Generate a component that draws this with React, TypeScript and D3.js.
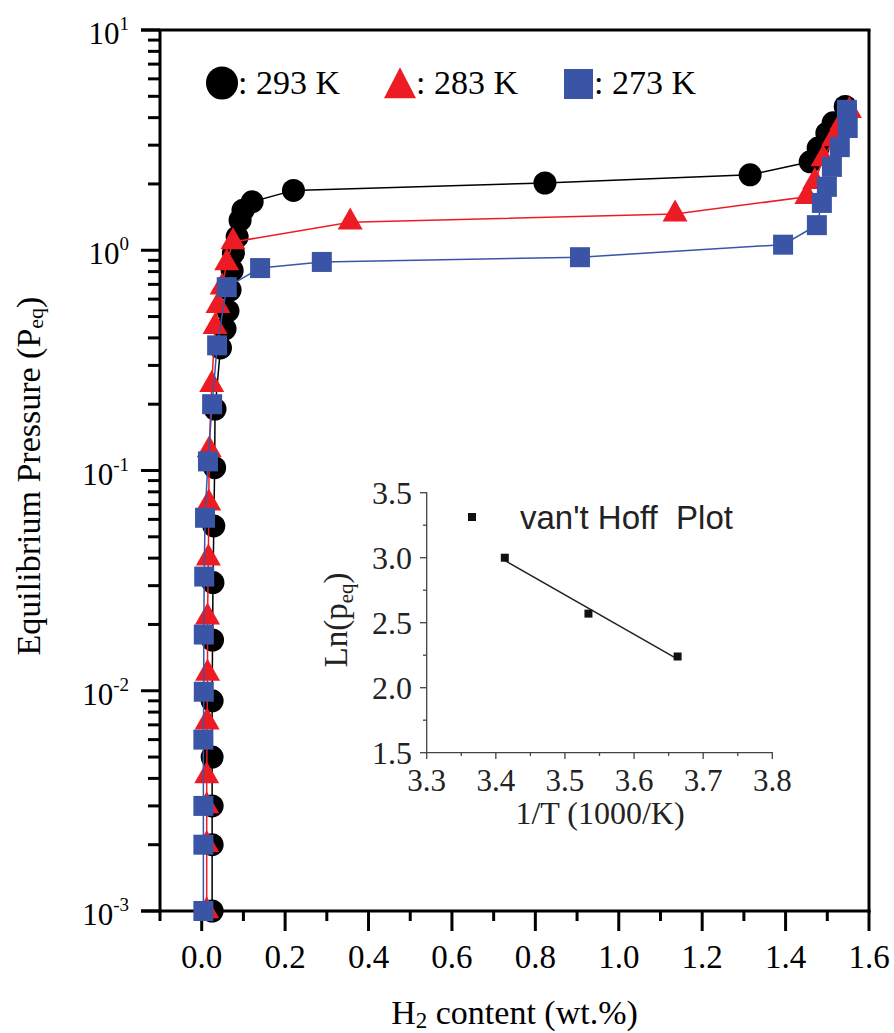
import React from 'react';
import * as d3 from 'd3';

// ---- main isotherms: H2 content (wt.%) vs equilibrium pressure ----
const h2_293 = [0.025, 0.025, 0.025, 0.025, 0.025, 0.026, 0.027, 0.029, 0.031, 0.032, 0.045, 0.056, 0.063, 0.068, 0.073, 0.076, 0.085, 0.092, 0.099, 0.121, 0.22, 0.823, 1.315, 1.459, 1.478, 1.499, 1.514, 1.543];
const p_293 = [0.001, 0.002, 0.003, 0.005, 0.009, 0.017, 0.031, 0.056, 0.103, 0.19, 0.36, 0.44, 0.53, 0.66, 0.81, 0.97, 1.15, 1.37, 1.52, 1.66, 1.87, 2.02, 2.2, 2.52, 2.91, 3.4, 3.79, 4.5];

const h2_283 = [0.012, 0.012, 0.012, 0.012, 0.013, 0.014, 0.014, 0.016, 0.017, 0.018, 0.024, 0.032, 0.039, 0.049, 0.06, 0.075, 0.356, 1.135, 1.451, 1.47, 1.49, 1.515, 1.535, 1.553];
const p_283 = [0.001, 0.002, 0.003, 0.0041, 0.0072, 0.012, 0.0216, 0.04, 0.071, 0.124, 0.245, 0.45, 0.56, 0.68, 0.875, 1.09, 1.34, 1.46, 1.75, 2.05, 2.6, 3.2, 3.8, 4.3];

const h2_273 = [0.004, 0.004, 0.004, 0.004, 0.005, 0.005, 0.006, 0.008, 0.015, 0.025, 0.037, 0.06, 0.14, 0.288, 0.907, 1.394, 1.475, 1.487, 1.499, 1.511, 1.53, 1.549, 1.547];
const p_273 = [0.001, 0.002, 0.003, 0.006, 0.0099, 0.018, 0.033, 0.061, 0.11, 0.2, 0.37, 0.68, 0.83, 0.885, 0.93, 1.06, 1.3, 1.64, 1.94, 2.39, 2.94, 3.59, 4.34];

const seriesLabels = [': 293 K', ': 283 K', ': 273 K'];
const xTickLabels = ['0.0', '0.2', '0.4', '0.6', '0.8', '1.0', '1.2', '1.4', '1.6'];
const yDecadeExponents = ['-3', '-2', '-1', '0', '1'];

// ---- inset: van't Hoff plot ----
const invT = [3.413, 3.534, 3.663];
const lnPeq = [3.0, 2.57, 2.24];
const insetXTickLabels = ['3.3', '3.4', '3.5', '3.6', '3.7', '3.8'];
const insetYTickLabels = ['1.5', '2.0', '2.5', '3.0', '3.5'];

const SERIF = "'Liberation Serif', 'Times New Roman', serif";
const SANS = "'Liberation Sans', Arial, sans-serif";

const BLACK = '#000000';
const RED = '#ed1c24';
const BLUE = '#3a55a6';

const serif = { fontFamily: SERIF };
const sans = { fontFamily: SANS, whiteSpace: 'pre' as const };

function triPath(cx: number, cy: number, w: number, h: number) {
  // centroid-centred upward triangle
  const top = cy - (2 * h) / 3;
  const base = cy + h / 3;
  return `M${cx},${top}L${cx + w / 2},${base}L${cx - w / 2},${base}Z`;
}

export default function App() {
  const x = d3.scaleLinear().domain([-0.1, 1.6]).range([160, 869]);
  const y = d3.scaleLog().domain([1e-3, 10]).range([911, 30]);

  const ix = d3.scaleLinear().domain([3.3, 3.8]).range([426.7, 772.3]);
  const iy = d3.scaleLinear().domain([1.5, 3.5]).range([752.7, 492.7]);

  const mk = (xs: number[], ps: number[]) => xs.map((v, i) => [v, ps[i]] as [number, number]);
  const s293 = mk(h2_293, p_293);
  const s283 = mk(h2_283, p_283);
  const s273 = mk(h2_273, p_273);

  const line = d3
    .line<[number, number]>()
    .x((d) => x(d[0]))
    .y((d) => y(d[1]));

  // major and minor ticks on the log axis
  const logTicks: { v: number; major: boolean }[] = [];
  for (let e = -3; e <= 1; e++) {
    logTicks.push({ v: Math.pow(10, e), major: true });
    if (e < 1) for (let m = 2; m <= 9; m++) logTicks.push({ v: m * Math.pow(10, e), major: false });
  }
  const xTicks = d3.range(-1, 17).map((k) => ({ v: k / 10, major: k % 2 === 0 }));

  // least-squares fit through the van't Hoff points
  const mx = d3.mean(invT)!;
  const my = d3.mean(lnPeq)!;
  let sxy = 0;
  let sxx = 0;
  invT.forEach((v, i) => {
    sxy += (v - mx) * (lnPeq[i] - my);
    sxx += (v - mx) * (v - mx);
  });
  const slope = sxy / sxx;
  const fit = (v: number) => my + slope * (v - mx);
  const fx0 = invT[0];
  const fx1 = invT[invT.length - 1];

  const insetXMinor = d3.range(0, 11).map((k) => 3.3 + k * 0.05);
  const insetYMinor = d3.range(0, 9).map((k) => 1.5 + k * 0.25);

  return (
    <svg
      width={894}
      height={1033}
      viewBox="0 0 894 1033"
      style={{ position: 'absolute', left: 0, top: 0, background: '#fff' }}
    >
      <rect x={0} y={0} width={894} height={1033} fill="#fff" />

      {/* frame */}
      <g stroke="#000" strokeWidth={3} fill="none">
        <line x1={141} y1={30} x2={870.5} y2={30} />
        <line x1={869} y1={30} x2={869} y2={912.5} />
        <line x1={160} y1={30} x2={160} y2={912.5} />
        <line x1={141} y1={911} x2={870.5} y2={911} />
      </g>

      {/* y ticks */}
      <g stroke="#000" strokeWidth={3}>
        {logTicks.map((t, i) => (
          <line key={i} x1={t.major ? 141 : 148} x2={160} y1={y(t.v)} y2={y(t.v)} />
        ))}
      </g>
      {yDecadeExponents.map((e) => (
        <text key={e} x={129} y={y(Math.pow(10, +e)) + 14} textAnchor="end" fontSize={31} fill="#000" style={serif}>
          10
          <tspan fontSize={19} dy={-14}>
            {e}
          </tspan>
        </text>
      ))}

      {/* x ticks */}
      <g stroke="#000" strokeWidth={3}>
        {xTicks.map((t, i) => (
          <line key={i} x1={x(t.v)} x2={x(t.v)} y1={911} y2={t.major ? 931 : 921} />
        ))}
      </g>
      {xTickLabels.map((l) => (
        <text key={l} x={x(+l)} y={968} textAnchor="middle" fontSize={33} fill="#000" style={serif}>
          {l}
        </text>
      ))}

      {/* axis titles */}
      <text x={514.5} y={1024} textAnchor="middle" fontSize={34} fill="#000" style={serif}>
        H
        <tspan fontSize={23} dy={4}>
          2
        </tspan>
        <tspan dy={-4}> content (wt.%)</tspan>
      </text>
      <text transform="translate(40,476) rotate(-90)" textAnchor="middle" fontSize={34} fill="#000" style={serif}>
        Equilibrium Pressure (P
        <tspan fontSize={22} dy={3}>
          eq
        </tspan>
        <tspan dy={-3}>)</tspan>
      </text>

      {/* 293 K */}
      <path d={line(s293) || ''} fill="none" stroke={BLACK} strokeWidth={1.5} />
      {s293.map((d, i) => (
        <circle key={i} cx={x(d[0])} cy={y(d[1])} r={11.5} fill={BLACK} />
      ))}

      {/* 283 K */}
      <path d={line(s283) || ''} fill="none" stroke={RED} strokeWidth={1.5} />
      {s283.map((d, i) => (
        <path key={i} d={triPath(x(d[0]), y(d[1]), 25, 22)} fill={RED} />
      ))}

      {/* 273 K */}
      <path d={line(s273) || ''} fill="none" stroke={BLUE} strokeWidth={1.5} />
      {s273.map((d, i) => (
        <rect key={i} x={x(d[0]) - 10} y={y(d[1]) - 10} width={20} height={20} fill={BLUE} />
      ))}

      {/* legend */}
      <g fontSize={34} fill="#000">
        <ellipse cx={222} cy={83} rx={16} ry={16.5} fill={BLACK} />
        <text x={238} y={94} style={serif}>
          {seriesLabels[0]}
        </text>
        <path d={triPath(400, 88, 32, 31)} fill={RED} />
        <text x={416} y={94} style={serif}>
          {seriesLabels[1]}
        </text>
        <rect x={564} y={69} width={29} height={30} fill={BLUE} />
        <text x={594} y={94} style={serif}>
          {seriesLabels[2]}
        </text>
      </g>

      {/* inset: van't Hoff plot */}
      <g>
        <g stroke="#444" strokeWidth={1.3}>
          <line x1={426.7} y1={492} x2={426.7} y2={753.3} />
          <line x1={426.1} y1={752.7} x2={772.9} y2={752.7} />
          {insetYMinor.map((v, i) => (
            <line key={'ym' + i} x1={i % 2 === 0 ? 420 : 423} x2={426.7} y1={iy(v)} y2={iy(v)} />
          ))}
          {insetXMinor.map((v, i) => (
            <line key={'xm' + i} x1={ix(v)} x2={ix(v)} y1={752.7} y2={i % 2 === 0 ? 759 : 756} />
          ))}
        </g>
        {insetYTickLabels.map((l) => (
          <text key={l} x={412} y={iy(+l) + 11} textAnchor="end" fontSize={32} fill="#222" style={serif}>
            {l}
          </text>
        ))}
        {insetXTickLabels.map((l) => (
          <text key={l} x={ix(+l)} y={791} textAnchor="middle" fontSize={31} fill="#222" style={serif}>
            {l}
          </text>
        ))}
        <text x={600} y={824} textAnchor="middle" fontSize={32} fill="#222" style={serif}>
          1/T (1000/K)
        </text>
        <text transform="translate(347,620) rotate(-90)" textAnchor="middle" fontSize={33} fill="#222" style={serif}>
          Ln(p
          <tspan fontSize={21} dy={6}>
            eq
          </tspan>
          <tspan dy={-6}>)</tspan>
        </text>

        <line x1={ix(fx0)} y1={iy(fit(fx0))} x2={ix(fx1)} y2={iy(fit(fx1))} stroke="#222" strokeWidth={1.5} />
        {invT.map((v, i) => (
          <rect key={i} x={ix(v) - 4} y={iy(lnPeq[i]) - 4} width={8} height={8} fill="#111" />
        ))}

        <rect x={468} y={513} width={8} height={8} fill="#111" />
        <text x={520} y={529} fontSize={33} fill="#222" style={sans}>
          {"van't Hoff  Plot"}
        </text>
      </g>
    </svg>
  );
}
